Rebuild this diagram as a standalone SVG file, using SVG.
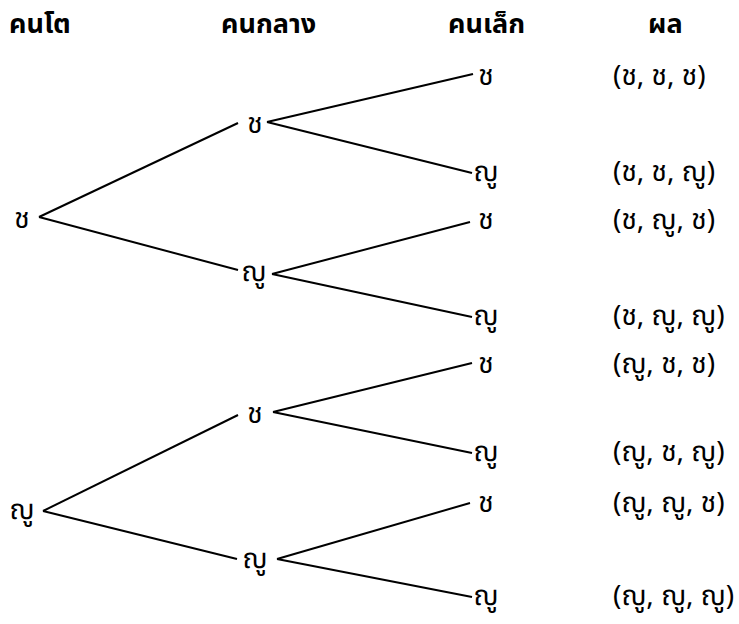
<svg xmlns="http://www.w3.org/2000/svg" width="739" height="624" viewBox="0 0 739 624">
<style>
text{font-family:"Noto Sans Thai","Noto Sans","DejaVu Sans",sans-serif;font-size:28px;fill:#000}
.n{text-anchor:middle}
.h{font-weight:bold;font-size:27px}
.e{stroke:#000;stroke-width:2;fill:none}
</style>
<rect width="739" height="624" fill="#fff"/>
<g id="headers">
<text class="h" x="9" y="33">คนโต</text>
<text class="h" x="221" y="33">คนกลาง</text>
<text class="h" x="448" y="33">คนเล็ก</text>
<text class="h" x="648" y="33">ผล</text>
</g>
<g id="connectors">
<line class="e" x1="39" y1="217" x2="238" y2="123"/>
<line class="e" x1="39" y1="217" x2="238" y2="270"/>
<line class="e" x1="43" y1="511" x2="238" y2="415"/>
<line class="e" x1="43" y1="511" x2="237" y2="559"/>
<line class="e" x1="267" y1="122" x2="473" y2="74"/>
<line class="e" x1="267" y1="122" x2="472" y2="173"/>
<line class="e" x1="272" y1="274" x2="470" y2="222"/>
<line class="e" x1="272" y1="274" x2="472" y2="317"/>
<line class="e" x1="273" y1="412" x2="472" y2="363"/>
<line class="e" x1="273" y1="412" x2="472" y2="453"/>
<line class="e" x1="277" y1="559" x2="470" y2="503"/>
<line class="e" x1="277" y1="559" x2="472" y2="597"/>
</g>
<g id="root1"><text class="n" x="22" y="228">ช</text></g>
<g id="root2"><text class="n" x="22" y="519">ญู</text></g>
<g id="mid1"><text class="n" x="255" y="133">ช</text></g>
<g id="mid2"><text class="n" x="254" y="281">ญู</text></g>
<g id="mid3"><text class="n" x="255" y="423">ช</text></g>
<g id="mid4"><text class="n" x="255" y="568">ญู</text></g>
<g id="leaf1"><text class="n" x="486" y="85">ช</text></g>
<g id="leaf2"><text class="n" x="486" y="181">ญู</text></g>
<g id="leaf3"><text class="n" x="486" y="229">ช</text></g>
<g id="leaf4"><text class="n" x="486" y="325">ญู</text></g>
<g id="leaf5"><text class="n" x="486" y="373">ช</text></g>
<g id="leaf6"><text class="n" x="486" y="461">ญู</text></g>
<g id="leaf7"><text class="n" x="486" y="512">ช</text></g>
<g id="leaf8"><text class="n" x="486" y="605">ญู</text></g>
<g id="results">
<text x="613" y="85">(ช, ช, ช)</text>
<text x="613" y="181">(ช, ช, ญู)</text>
<text x="613" y="229">(ช, ญู, ช)</text>
<text x="613" y="325">(ช, ญู, ญู)</text>
<text x="613" y="373">(ญู, ช, ช)</text>
<text x="613" y="461">(ญู, ช, ญู)</text>
<text x="613" y="512">(ญู, ญู, ช)</text>
<text x="613" y="605">(ญู, ญู, ญู)</text>
</g>
</svg>
